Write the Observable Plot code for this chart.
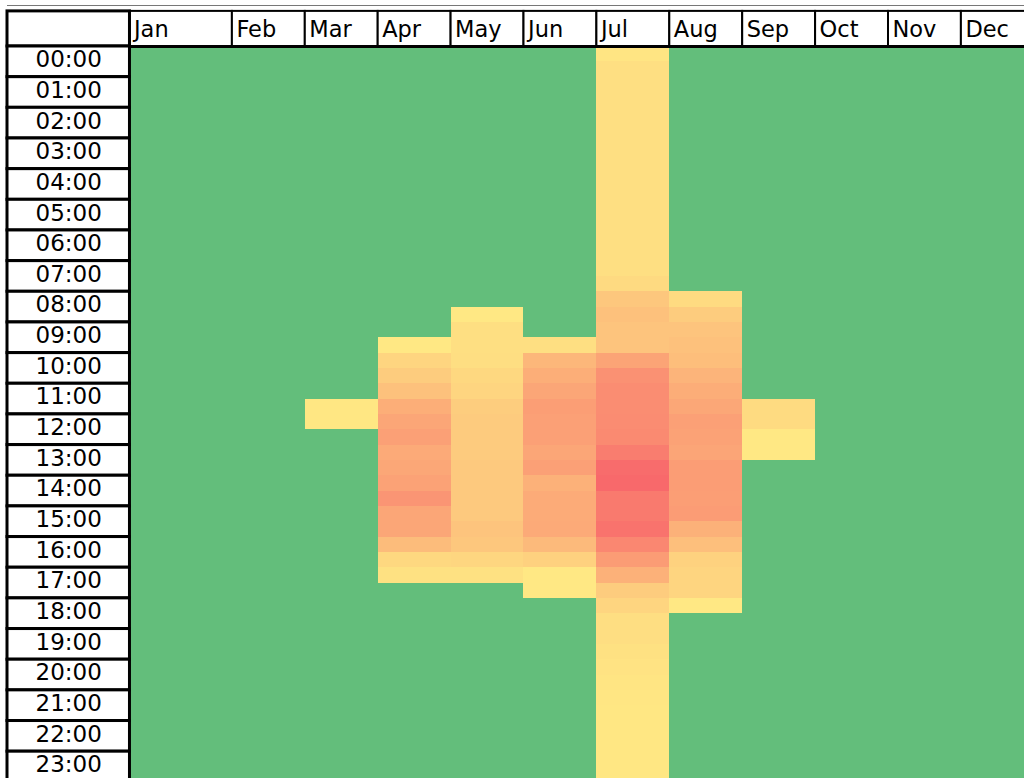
<!DOCTYPE html>
<html>
<head>
<meta charset="utf-8">
<script src="https://cdn.jsdelivr.net/npm/d3@7"></script>
<script src="https://cdn.jsdelivr.net/npm/@observablehq/plot@0.6"></script>
<style>
  html, body { margin: 0; padding: 0; background: #fff; overflow: hidden; width: 1024px; height: 778px; }
  #chart { position: absolute; left: 0; top: 0; }
  #chart svg { max-width: none !important; }
</style>
</head>
<body>
<div id="chart"></div>
<script>
// ---- data: months (columns), hour labels (rows), half-hourly values (% of max) ----
const months = ["Jan","Feb","Mar","Apr","May","Jun","Jul","Aug","Sep","Oct","Nov","Dec"];
const hourLabels = ["00:00","01:00","02:00","03:00","04:00","05:00","06:00","07:00",
  "08:00","09:00","10:00","11:00","12:00","13:00","14:00","15:00",
  "16:00","17:00","18:00","19:00","20:00","21:00","22:00","23:00"];

// 48 half-hour slots per month (00:00, 00:30, ... 23:30)
const jan = [0,0,0,0,0,0,0,0, 0,0,0,0,0,0,0,0, 0,0,0,0,0,0,0,0, 0,0,0,0,0,0,0,0, 0,0,0,0,0,0,0,0, 0,0,0,0,0,0,0,0];
const feb = [0,0,0,0,0,0,0,0, 0,0,0,0,0,0,0,0, 0,0,0,0,0,0,0,0, 0,0,0,0,0,0,0,0, 0,0,0,0,0,0,0,0, 0,0,0,0,0,0,0,0];
const mar = [0,0,0,0,0,0,0,0, 0,0,0,0,0,0,0,0, 0,0,0,0,0,0,0,3, 3,0,0,0,0,0,0,0, 0,0,0,0,0,0,0,0, 0,0,0,0,0,0,0,0];
const apr = [0,0,0,0,0,0,0,0, 0,0,0,0,0,0,0,0, 0,0,0,2,17,24,32,47, 53,58,50,52,56,66,53,53, 36,15,8,0,0,0,0,0, 0,0,0,0,0,0,0,0];
const may = [0,0,0,0,0,0,0,0, 0,0,0,0,0,0,0,0, 0,2,9,9,10,15,17,23, 25,25,25,26,26,26,26,30, 28,16,8,0,0,0,0,0, 0,0,0,0,0,0,0,0];
const jun = [0,0,0,0,0,0,0,0, 0,0,0,0,0,0,0,0, 0,0,0,9,40,47,53,59, 58,58,53,58,45,49,49,50, 38,20,2,2,0,0,0,0, 0,0,0,0,0,0,0,0];
const jul = [5,9,9,9,9,9,9,9, 9,9,9,9,9,9,9,13, 28,32,30,30,55,69,72,72, 73,75,85,98,100,87,87,92, 77,61,45,24,17,10,10,8, 6,5,4,3,3,3,3,3];
const aug = [0,0,0,0,0,0,0,0, 0,0,0,0,0,0,0,0, 12,24,30,32,35,42,48,52, 58,56,54,60,60,59,61,45, 34,19,17,17,2,0,0,0, 0,0,0,0,0,0,0,0];
const sep = [0,0,0,0,0,0,0,0, 0,0,0,0,0,0,0,0, 0,0,0,0,0,0,0,12, 12,2,2,0,0,0,0,0, 0,0,0,0,0,0,0,0, 0,0,0,0,0,0,0,0];
const oct = [0,0,0,0,0,0,0,0, 0,0,0,0,0,0,0,0, 0,0,0,0,0,0,0,0, 0,0,0,0,0,0,0,0, 0,0,0,0,0,0,0,0, 0,0,0,0,0,0,0,0];
const nov = [0,0,0,0,0,0,0,0, 0,0,0,0,0,0,0,0, 0,0,0,0,0,0,0,0, 0,0,0,0,0,0,0,0, 0,0,0,0,0,0,0,0, 0,0,0,0,0,0,0,0];
const dec = [0,0,0,0,0,0,0,0, 0,0,0,0,0,0,0,0, 0,0,0,0,0,0,0,0, 0,0,0,0,0,0,0,0, 0,0,0,0,0,0,0,0, 0,0,0,0,0,0,0,0];
const seriesByMonth = [jan, feb, mar, apr, may, jun, jul, aug, sep, oct, nov, dec];

// ---- layout (column widths in standard-column units, rows in half-hour slots) ----
const LABEL_W = 1.68, JAN_W = 1.405, COL_W = 1;
const UNIT_PX = 72.9, SLOT_PX = 15.33, LEFT = 7, TOP = 46;
const HEADER = 2.29;
const colStart = m => LABEL_W + (m === 0 ? 0 : JAN_W + (m - 1) * COL_W);
const colEnd = m => colStart(m) + (m === 0 ? JAN_W : COL_W);
const TOTAL = colEnd(11);

const cells = [];
seriesByMonth.forEach((vals, mi) => vals.forEach((v, s) => cells.push({mi, s, v})));
const hours = hourLabels.map((label, h) => ({label, h}));

const FONT = "DejaVu Sans";

const chart = Plot.plot({
  width: 1024,
  height: 778,
  margin: 0,
  style: {background: "white", maxWidth: "none"},
  x: {type: "linear", domain: [0, TOTAL], range: [LEFT, LEFT + TOTAL * UNIT_PX], axis: null},
  y: {type: "linear", domain: [0, 48], range: [TOP, TOP + 48 * SLOT_PX], axis: null},
  color: {type: "linear", domain: [0, 1e-6, 100], range: ["#63BE7B", "#FFEB84", "#F8696B"], interpolate: "rgb"},
  marks: [
    // faint sheet gridline above the table
    Plot.ruleY([-(TOP - 5) / SLOT_PX], {x1: 0, x2: TOTAL + 1, stroke: "#777", strokeWidth: 1}),
    // heatmap cells
    Plot.rect(cells, {
      x1: d => colStart(d.mi), x2: d => colEnd(d.mi),
      y1: d => d.s, y2: d => d.s + 1,
      fill: "v", shapeRendering: "crispEdges"
    }),
    // header cells
    Plot.rect(months, {
      x1: (d, i) => colStart(i), x2: (d, i) => colEnd(i),
      y1: -HEADER, y2: 0, fill: "white", stroke: "black", strokeWidth: 2
    }),
    Plot.rect([0], {x1: 0, x2: LABEL_W, y1: -HEADER, y2: 0, fill: "white", stroke: "black", strokeWidth: 3}),
    Plot.ruleY([0], {x1: 0, x2: TOTAL, stroke: "black", strokeWidth: 3}),
    // row label cells
    Plot.rect(hours, {
      x1: 0, x2: LABEL_W, y1: d => d.h * 2, y2: d => d.h * 2 + 2,
      fill: "white", stroke: "black", strokeWidth: 3
    }),
    Plot.text(months, {
      x: (d, i) => colStart(i), y: -HEADER / 2, text: d => d,
      textAnchor: "start", dx: 4, dy: 1, fontSize: 22.5, fontFamily: FONT, fill: "black"
    }),
    Plot.text(hours, {
      x: LABEL_W / 2, y: d => d.h * 2 + 1, text: "label",
      dy: -2, fontSize: 23, fontFamily: FONT, fill: "black"
    })
  ]
});
document.getElementById("chart").append(chart);
</script>
</body>
</html>
